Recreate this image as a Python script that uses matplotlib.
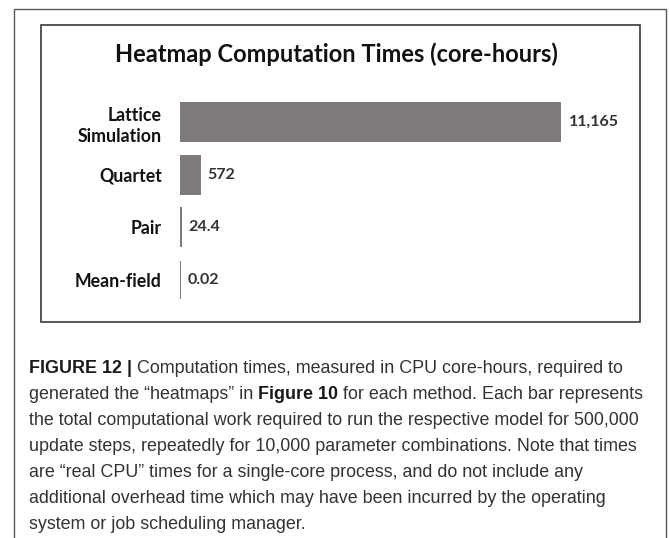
import matplotlib
matplotlib.use("Agg")
from matplotlib import pyplot as plt
from matplotlib.patches import Rectangle

W, H = 669, 538

# data
methods = ["Lattice\nSimulation", "Quartet", "Pair", "Mean-field"]
core_hours = [11165, 572, 24.4, 0.02]
value_labels = ["11,165", "572", "24.4", "0.02"]
title = "Heatmap Computation Times (core-hours)"

caption_lines = [
    [("FIGURE 12 |", True), ("Computation times, measured in CPU core-hours, required to", False)],
    [("generated the \u201cheatmaps\u201d in", False), ("Figure 10", True),
     ("for each method. Each bar represents", False)],
    [("the total computational work required to run the respective model for 500,000", False)],
    [("update steps, repeatedly for 10,000 parameter combinations. Note that times", False)],
    [("are \u201creal CPU\u201d times for a single-core process, and do not include any", False)],
    [("additional overhead time which may have been incurred by the operating", False)],
    [("system or job scheduling manager.", False)],
]


def fx(x):
    return x / W


def fy(y):
    return 1 - y / H


fig = plt.figure(figsize=(W / 100, H / 100), dpi=100)
fig.patch.set_facecolor("white")
renderer = fig.canvas.get_renderer()

# outer and inner frames
fig.add_artist(Rectangle((fx(14), fy(560)), fx(666) - fx(14), fy(9) - fy(560),
                         transform=fig.transFigure, fill=False, ec="#5a5a5a", lw=1.0))
fig.add_artist(Rectangle((fx(41), fy(322)), fx(640) - fx(41), fy(25) - fy(322),
                         transform=fig.transFigure, fill=False, ec="#3a3a3a", lw=1.2))

# bar chart
ax = fig.add_axes([fx(180), fy(306.3), fx(561) - fx(180), (306.3 - 95.7) / H])
ypos = list(range(len(methods)))
ax.barh(ypos, core_hours, height=0.72, color="#7e7a7a", edgecolor="#7e7a7a", linewidth=1.4)
ax.set_xlim(0, 11165)
ax.set_ylim(3.5, -0.5)
ax.set_yticks(ypos)
ax.set_yticklabels(methods, fontsize=12.8, fontweight="bold", family="Lato",
                   color="#111111", linespacing=1.32)
ax.tick_params(axis="y", length=0, pad=13)
ax.set_xticks([])
for s in ax.spines.values():
    s.set_visible(False)
ax.patch.set_alpha(0)

for y, v, lab in zip(ypos, core_hours, value_labels):
    ax.annotate(lab, (v, y), xytext=(8, 0), textcoords="offset pixels",
                ha="left", va="center", fontsize=11.5, fontweight="bold",
                family="Lato", color="#333333", annotation_clip=False)

# title, sized to the reference width
t = fig.text(fx(336), fy(61.7), title, ha="center", va="baseline",
             fontsize=10, fontweight="bold", family="Lato", color="#111111")
tw = t.get_window_extent(renderer).width
t.set_fontsize(10 * 444 / tw)

# caption, sized so the third line spans the text column
probe = fig.text(0, 0, caption_lines[2][0][0], fontsize=10, family="Liberation Sans")
cap_size = 10 * 611 / probe.get_window_extent(renderer).width
probe.remove()
sp = fig.text(0, 0, "a a", fontsize=cap_size, family="Liberation Sans")
sp2 = fig.text(0, 0, "aa", fontsize=cap_size, family="Liberation Sans")
space_w = sp.get_window_extent(renderer).width - sp2.get_window_extent(renderer).width
sp.remove()
sp2.remove()

for i, runs in enumerate(caption_lines):
    x = 29.0
    base = 373.3 + 26 * i
    for text, bold in runs:
        tt = fig.text(fx(x), fy(base), text, ha="left", va="baseline",
                      fontsize=cap_size, family="Liberation Sans",
                      fontweight="bold" if bold else "normal",
                      color="#1a1a1a" if bold else "#333333")
        x += tt.get_window_extent(renderer).width + space_w

fig.savefig("out.png", dpi=100)
